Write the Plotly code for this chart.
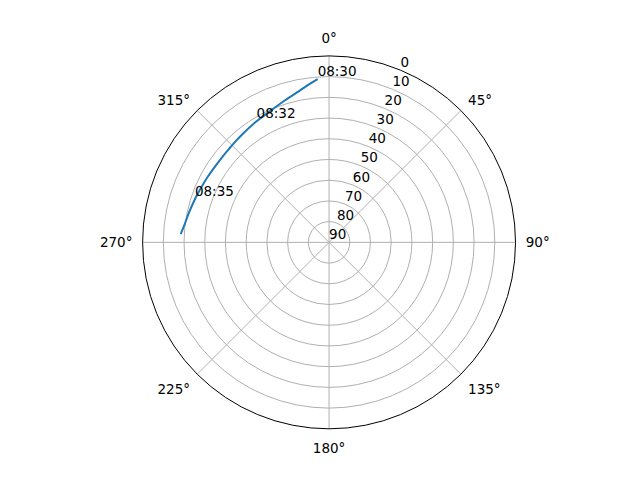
import plotly.graph_objects as go

# sun path: azimuth (deg, clockwise from north) and elevation (deg)
azimuth = [356.0, 352.0, 347.9, 342.0, 337.2, 333.0, 329.1, 321.3, 317.9, 313.4,
           309.3, 304.0, 298.3, 290.3, 287.8, 282.1, 277.0, 273.2]
elevation = [11.0, 13.6, 16.0, 18.5, 20.2, 21.2, 21.9, 23.1, 23.5, 23.9,
             24.0, 23.9, 23.4, 22.4, 22.0, 20.9, 19.7, 18.3]

# time labels
label_az = [356.0, 329.1, 287.8]
label_el = [11.0, 21.9, 22.0]
label_text = ["08:30", "08:32", "08:35"]

angle_ticks = [0, 45, 90, 135, 180, 225, 270, 315]
angle_text = [f"{a}°" for a in angle_ticks]
radial_ticks = [0, 10, 20, 30, 40, 50, 60, 70, 80, 90]

fig = go.Figure()
fig.add_trace(go.Scatterpolar(
    theta=azimuth, r=elevation, mode="lines",
    line=dict(color="#1f77b4", width=2, shape="spline"), showlegend=False,
))
fig.add_trace(go.Scatterpolar(
    theta=label_az, r=label_el, mode="text", text=label_text,
    textposition="top right", textfont=dict(size=13.5, color="black"),
    showlegend=False, cliponaxis=False,
))
# radial tick labels, drawn at 22.5 deg like matplotlib
fig.add_trace(go.Scatterpolar(
    theta=[22.5] * len(radial_ticks), r=radial_ticks, mode="text",
    text=[str(v) for v in radial_ticks],
    textposition="top right", textfont=dict(size=13.5, color="black"),
    showlegend=False, cliponaxis=False,
))

fig.update_layout(
    width=640, height=480,
    margin=dict(l=0, r=0, t=0, b=0),
    paper_bgcolor="white",
    font=dict(family="DejaVu Sans", size=13.5, color="black"),
    polar=dict(
        domain=dict(x=[0.2102, 0.7931], y=[0.1233, 0.9002]),
        bgcolor="white",
        angularaxis=dict(
            rotation=90, direction="clockwise",
            tickvals=angle_ticks, ticktext=angle_text,
            ticks="outside", ticklen=7, tickcolor="rgba(0,0,0,0)",
            tickfont=dict(size=13.5),
            showgrid=True, gridcolor="#b0b0b0", gridwidth=1,
            showline=True, linecolor="black", linewidth=1,
        ),
        radialaxis=dict(
            range=[90, 0], tickvals=radial_ticks, angle=67.5,
            showticklabels=False,
            showgrid=True, gridcolor="#b0b0b0", gridwidth=1,
            showline=False, ticks="",
        ),
    ),
)

fig.write_html("out.html")
